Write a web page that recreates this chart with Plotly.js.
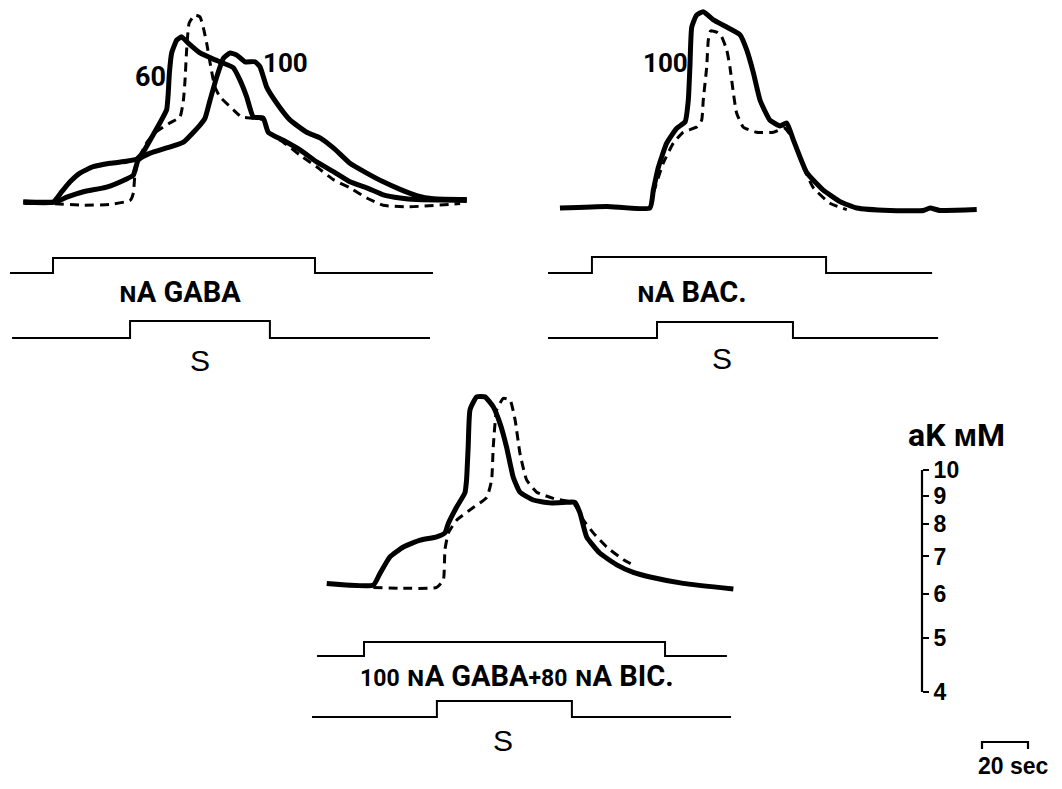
<!DOCTYPE html>
<html><head><meta charset="utf-8">
<script src="https://cdn.plot.ly/plotly-3.0.1.min.js"></script>
<style>html,body{margin:0;padding:0;background:#fff}</style>
</head><body><div id="chart" style="width:1062px;height:789px"></div>
<script>
// ===== DATA (time in s, aK in mM) =====
// Panel A: GABA (60 nA solid, 100 nA solid, dashed = control)
const gaba60T = [5.8,18.8,22.5,26.1,30.4,36.2,43.5,50.7,55.1,58.0,60.9,65.2,68.1,68.8,69.3,70.3,72.5,74.6,77.5,82.6,88.4,92.8,97.1,100.0,102.9,105.8,110.1,112.3,118.8,126.1,133.3,140.6,147.8,155.1,162.3,169.6,176.8,198.6];
const gaba60K = [3.00,3.00,3.13,3.26,3.38,3.47,3.52,3.55,3.58,3.69,3.87,4.16,4.39,4.70,5.11,5.55,5.85,5.93,5.78,5.55,5.41,5.32,5.22,4.96,4.63,4.26,4.24,4.00,3.87,3.72,3.54,3.40,3.26,3.18,3.09,3.05,3.03,3.02];
const gaba100T = [5.8,19.6,24.7,31.9,42.0,50.7,53.6,55.8,60.9,68.1,75.4,82.6,84.8,87.0,89.9,92.8,95.7,98.6,102.2,106.5,108.7,111.6,116.0,121.7,129.0,134.8,140.6,147.8,155.1,162.3,169.6,176.8,184.1,198.6];
const gaba100K = [3.00,3.00,3.06,3.13,3.19,3.30,3.35,3.57,3.67,3.75,3.84,4.12,4.24,4.57,5.03,5.43,5.55,5.50,5.35,5.35,5.24,4.82,4.51,4.21,4.00,3.91,3.75,3.52,3.38,3.26,3.16,3.08,3.04,3.03];
const gabaCtlT = [6.5,18.8,31.9,43.5,52.2,53.6,54.3,55.8,59.4,63.0,69.6,73.9,75.4,76.1,76.8,77.9,80.4,82.6,84.3,85.5,87.3,89.1,91.3,97.1,100.7,105.8,110.1,112.3,118.8,126.1,133.3,140.6,147.8,155.1,162.3,172.5,195.7];
const gabaCtlK = [2.98,2.98,2.96,2.97,3.02,3.11,3.35,3.57,3.83,3.99,4.16,4.26,4.57,4.96,5.62,6.28,6.49,6.44,6.10,5.78,5.24,4.82,4.63,4.39,4.26,4.24,4.21,4.00,3.84,3.64,3.47,3.29,3.18,3.05,2.96,2.94,2.98];
const gabaAppT = [0,18.7,18.7,132.6,132.6,183.9];
const gabaStimT = [0.9,52.2,52.2,113.0,113.0,182.6];

// Panel B: baclofen (100 nA solid, dashed = control)
const bacT = [5.2,25.5,44.3,45.8,48.0,51.6,56.0,59.6,61.0,61.7,62.5,64.6,67.5,71.9,77.7,83.5,86.4,89.3,92.2,96.5,100.9,103.8,106.7,112.5,119.7,127.0,134.2,148.7,163.2,166.1,170.4,186.4];
const bacK = [3.00,3.02,3.00,3.23,3.55,3.92,4.17,4.28,4.68,5.37,6.33,6.65,6.74,6.52,6.33,6.13,5.76,5.24,4.68,4.31,4.21,4.26,3.97,3.47,3.23,3.08,3.00,2.97,2.97,3.00,2.97,2.98];
const bacCtlT = [45.8,50.1,54.5,58.8,64.6,66.8,67.5,69.0,69.7,70.7,73.3,75.5,77.7,79.1,80.6,82.0,84.9,90.7,98.0,103.0,106.7,111.0,115.4,122.6,129.9];
const bacCtlK = [3.19,3.61,3.92,4.10,4.19,4.31,4.68,5.37,6.00,6.23,6.20,6.08,5.76,5.37,4.82,4.44,4.19,4.10,4.10,4.17,3.97,3.55,3.26,3.06,2.98];
const bacAppT = [0,19.1,19.1,120.9,120.9,167.0];
const bacStimT = [0,47.4,47.4,106.5,106.5,169.6];

// Panel C: GABA + bicuculline (solid, dashed = control)
const bicT = [6.4,26.7,29.6,33.9,39.7,47.0,54.2,57.8,59.3,62.9,66.5,67.2,67.9,68.7,71.6,75.2,78.8,81.7,84.6,87.5,90.4,96.2,103.5,110.7,114.3,116.5,119.4,125.2,132.5,139.7,147.0,161.4,183.2];
const bicK = [3.02,3.00,3.15,3.37,3.51,3.61,3.66,3.72,3.87,4.14,4.39,4.63,5.30,6.18,6.52,6.52,6.26,5.85,5.30,4.68,4.40,4.26,4.21,4.22,4.22,4.04,3.66,3.42,3.26,3.16,3.10,3.02,2.95];
const bicCtlT = [26.7,38.3,54.2,57.1,57.8,59.3,62.9,68.7,76.0,78.1,78.8,80.3,83.2,86.1,88.3,90.4,93.3,97.7,104.9,113.6,118.0,122.3,128.1,135.4,139.7];
const bicCtlK = [2.97,2.96,2.97,3.06,3.47,3.72,3.92,4.09,4.31,4.63,5.30,6.18,6.48,6.44,5.93,5.17,4.63,4.40,4.29,4.21,3.92,3.72,3.51,3.33,3.26];
const bicAppT = [2.2,22.6,22.6,153.5,153.5,180.4];
const bicStimT = [0,54.3,54.3,113.0,113.0,182.2];

const stepLevel = [0,0,1,1,0,0];          // off / on
const baselineK = 3;                       // mM, resting level
const scaleTicks = [4,5,6,7,8,9,10];       // aK mM calibration
const timeBarT = [0,0,20,20];              // 20 s calibration
const timeBarY = [0,1,1,0];

// ===== LAYOUT HELPERS =====
const W = 1062, H = 789, PXS = 2.3, PXD = 558;
function xax(L, R, X0, anchor){ return {domain:[L/W, R/W], range:[(L-X0)/PXS, (R-X0)/PXS], anchor:anchor, visible:false}; }
function ylog(T, B, yb, anchor){ const l = Math.log10(baselineK); return {type:'log', domain:[1-B/H, 1-T/H], range:[l-(B-yb)/PXD, l+(yb-T)/PXD], anchor:anchor, visible:false}; }
function ystep(onPx, offPx, anchor){ const u = offPx-onPx; return {domain:[1-(offPx+0.6*u)/H, 1-(onPx-0.6*u)/H], range:[-0.6,1.6], anchor:anchor, visible:false}; }

const solid = {color:'#000', width:5, shape:'spline', smoothing:0.45};
const dashed = {color:'#000', width:3, dash:'9px,6px', shape:'spline', smoothing:0.45};
const stepLine = {color:'#000', width:2};

function tr(x, y, xa, ya, line){ return {x:x, y:y, xaxis:xa, yaxis:ya, type:'scatter', mode:'lines', line:line, hoverinfo:'skip', showlegend:false}; }

const data = [
  tr(gabaCtlT, gabaCtlK, 'x', 'y', dashed),
  tr(gaba60T, gaba60K, 'x', 'y', solid),
  tr(gaba100T, gaba100K, 'x', 'y', solid),
  tr(gabaAppT, stepLevel, 'x', 'y2', stepLine),
  tr(gabaStimT, stepLevel, 'x', 'y3', stepLine),

  tr(bacCtlT, bacCtlK, 'x2', 'y4', dashed),
  tr(bacT, bacK, 'x2', 'y4', solid),
  tr(bacAppT, stepLevel, 'x2', 'y5', stepLine),
  tr(bacStimT, stepLevel, 'x2', 'y6', stepLine),

  tr(bicCtlT, bicCtlK, 'x3', 'y7', dashed),
  tr(bicT, bicK, 'x3', 'y7', solid),
  tr(bicAppT, stepLevel, 'x3', 'y8', stepLine),
  tr(bicStimT, stepLevel, 'x3', 'y9', stepLine),

  tr([0,0], [Math.min(...scaleTicks), Math.max(...scaleTicks)], 'x4', 'y10', {color:'#000', width:2.2}),
  tr(timeBarT, timeBarY, 'x5', 'y11', {color:'#000', width:2.2})
];

const scalePx = v => 470 + (1 - Math.log10(v)) * PXD;
const narrow = "'Liberation Sans Narrow', Roboto, 'Liberation Sans', sans-serif";
const sans = "'Liberation Sans', Arial, sans-serif";
function ann(text, px, py, size, fam, extra){ return Object.assign({text:text, x:px/W, y:1-py/H, xref:'paper', yref:'paper', xanchor:'center', yanchor:'middle', showarrow:false, font:{family:fam, size:size, color:'#000'}}, extra||{}); }
const sm = t => "<span style='font-size:23px'>" + t + "</span>";

const layout = {
  width:W, height:H, autosize:false,
  margin:{l:0, r:0, t:0, b:0, pad:0},
  paper_bgcolor:'#fff', plot_bgcolor:'rgba(0,0,0,0)',
  showlegend:false,
  xaxis: xax(0, 480, 10, 'y'),
  yaxis: ylog(0, 230, 202, 'x'),
  yaxis2: ystep(258, 273, 'x'),
  yaxis3: ystep(321, 338, 'x'),
  xaxis2: xax(530, 1000, 548, 'y4'),
  yaxis4: ylog(0, 230, 208, 'x2'),
  yaxis5: ystep(257, 273, 'x2'),
  yaxis6: ystep(322, 338, 'x2'),
  xaxis3: xax(300, 760, 312, 'y7'),
  yaxis7: ylog(380, 610, 585, 'x3'),
  yaxis8: ystep(642, 656, 'x3'),
  yaxis9: ystep(701, 717, 'x3'),
  xaxis4: {domain:[912/W, 932/W], range:[-1,1], anchor:'y10', visible:false},
  yaxis10: {type:'log', domain:[1-scalePx(3.8)/H, 1-scalePx(10.6)/H], range:[Math.log10(3.8), Math.log10(10.6)],
            anchor:'free', position:922/W, side:'right', showline:false, showgrid:false, zeroline:false,
            ticks:'outside', ticklen:6, tickwidth:2, tickcolor:'#000',
            tickvals:scaleTicks, ticktext:scaleTicks.map(String),
            tickfont:{family:sans, size:23, color:'#000', weight:'bold'}},
  xaxis5: xax(975, 1040, 982, 'y11'),
  yaxis11: ystep(742, 749, 'x5'),
  annotations: [
    ann('<b>60</b>', 150, 77, 27, narrow),
    ann('<b>100</b>', 285, 63, 26, narrow),
    ann('<b>100</b>', 665, 63, 26, narrow),
    ann('<b>ɴA GABA</b>', 180, 292, 29, narrow),
    ann('<b>ɴA BAC.</b>', 692, 292, 29, narrow),
    ann('<b>' + sm('100') + ' ɴA GABA' + sm('+80') + ' ɴA BIC.</b>', 517, 676, 29, narrow),
    ann('S', 200, 360, 30, sans),
    ann('S', 722, 358, 30, sans),
    ann('S', 503, 740, 30, sans),
    ann('<b>aK ᴍM</b>', 956, 435, 32, narrow),
    ann('<b>20 sec</b>', 1013, 766, 23, sans)
  ]
};

Plotly.newPlot('chart', data, layout, {displayModeBar:false, staticPlot:true});
</script>
</body></html>
